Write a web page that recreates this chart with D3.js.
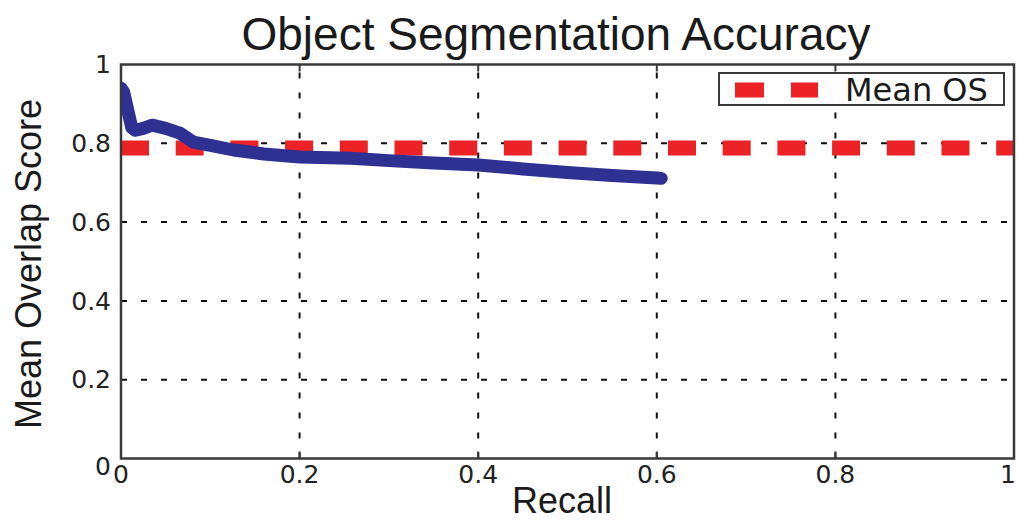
<!DOCTYPE html>
<html>
<head>
<meta charset="utf-8">
<script src="https://cdn.jsdelivr.net/npm/d3@7"></script>
<style>
  body { margin: 0; background: #fff; }
  svg { display: block; }
</style>
</head>
<body>
<div id="chart"></div>
<script>
// Data
const recall = [0, 0.003, 0.012, 0.016, 0.025, 0.035, 0.05, 0.066, 0.081, 0.1, 0.126, 0.16, 0.2, 0.257, 0.3, 0.35, 0.4, 0.45, 0.5, 0.55, 0.6, 0.605];
const overlap = [0.94, 0.93, 0.84, 0.833, 0.838, 0.846, 0.838, 0.826, 0.803, 0.795, 0.783, 0.773, 0.765, 0.762, 0.756, 0.75, 0.745, 0.735, 0.726, 0.718, 0.712, 0.711];
const meanOS = 0.788;
const xTicks = [0, 0.2, 0.4, 0.6, 0.8, 1];
const yTicks = [0, 0.2, 0.4, 0.6, 0.8, 1];
const tickLabels = ["0", "0.2", "0.4", "0.6", "0.8", "1"];

const width = 1017;
const height = 521;
const plot = { left: 121, right: 1014, top: 64.5, bottom: 458.5 };

const blue = "#2e3192";
const red = "#ec2227";
const frameColor = "#3a3a3a";

const svg = d3.select("#chart")
  .append("svg")
  .attr("width", width)
  .attr("height", height);

svg.append("clipPath")
  .attr("id", "plot-clip")
  .append("rect")
  .attr("x", plot.left).attr("y", plot.top)
  .attr("width", plot.right - plot.left)
  .attr("height", plot.bottom - plot.top);

const x = d3.scaleLinear().domain([0, 1]).range([plot.left, plot.right]);
const y = d3.scaleLinear().domain([0, 1]).range([plot.bottom, plot.top]);

// Grid (dotted)
const grid = svg.append("g");
grid.selectAll(".vgrid")
  .data(xTicks.slice(1, -1))
  .join("line")
  .attr("x1", (d) => x(d)).attr("x2", (d) => x(d))
  .attr("y1", plot.bottom).attr("y2", plot.top)
  .attr("stroke", "#111")
  .attr("stroke-width", 2)
  .attr("stroke-dasharray", "6,14");
grid.selectAll(".hgrid")
  .data(yTicks.slice(1, -1))
  .join("line")
  .attr("y1", (d) => y(d)).attr("y2", (d) => y(d))
  .attr("x1", plot.left).attr("x2", plot.right)
  .attr("stroke", "#111")
  .attr("stroke-width", 2)
  .attr("stroke-dasharray", "6,14");

// Mean OS line
svg.append("line")
  .attr("x1", x(0)).attr("x2", x(1))
  .attr("y1", y(meanOS)).attr("y2", y(meanOS))
  .attr("stroke", red)
  .attr("stroke-width", 15)
  .attr("stroke-dasharray", "28,26.7");

// Accuracy curve
const points = recall.map((r, i) => [r, overlap[i]]);
const line = d3.line().x((d) => x(d[0])).y((d) => y(d[1]));
svg.append("path")
  .datum(points)
  .attr("d", line)
  .attr("clip-path", "url(#plot-clip)")
  .attr("fill", "none")
  .attr("stroke", blue)
  .attr("stroke-width", 13)
  .attr("stroke-linejoin", "round")
  .attr("stroke-linecap", "round");

// Frame
svg.append("rect")
  .attr("x", plot.left).attr("y", plot.top)
  .attr("width", plot.right - plot.left)
  .attr("height", plot.bottom - plot.top)
  .attr("fill", "none")
  .attr("stroke", frameColor)
  .attr("stroke-width", 2.5);

// Inward ticks on top and bottom
const ticks = svg.append("g").attr("stroke", frameColor).attr("stroke-width", 2);
ticks.selectAll(".tt")
  .data(xTicks.slice(1, -1))
  .join("line")
  .attr("x1", (d) => x(d)).attr("x2", (d) => x(d))
  .attr("y1", plot.top).attr("y2", plot.top + 7);
ticks.selectAll(".bt")
  .data(xTicks.slice(1, -1))
  .join("line")
  .attr("x1", (d) => x(d)).attr("x2", (d) => x(d))
  .attr("y1", plot.bottom).attr("y2", plot.bottom - 7);

// Tick labels
const tickFont = "'DejaVu Sans', sans-serif";
svg.append("g")
  .selectAll("text")
  .data(xTicks)
  .join("text")
  .attr("x", (d) => (d === 1 ? width - 1 : x(d)))
  .attr("y", 483)
  .attr("text-anchor", (d) => (d === 1 ? "end" : "middle"))
  .attr("font-family", tickFont)
  .attr("font-size", 25)
  .attr("fill", "#222")
  .text((d, i) => tickLabels[i]);

svg.append("g")
  .selectAll("text")
  .data(yTicks)
  .join("text")
  .attr("x", 111)
  .attr("y", (d) => y(d) + (d === 0 ? 8 : 0))
  .attr("dy", "0.35em")
  .attr("text-anchor", "end")
  .attr("font-family", tickFont)
  .attr("font-size", 25)
  .attr("fill", "#222")
  .text((d, i) => tickLabels[i]);

// Title and axis labels
const labelFont = "'Liberation Sans', Arial, sans-serif";
svg.append("text")
  .attr("x", 556)
  .attr("y", 50)
  .attr("text-anchor", "middle")
  .attr("font-family", labelFont)
  .attr("font-size", 46)
  .attr("fill", "#1a1a1a")
  .text("Object Segmentation Accuracy");

svg.append("text")
  .attr("x", 562)
  .attr("y", 513)
  .attr("text-anchor", "middle")
  .attr("font-family", labelFont)
  .attr("font-size", 36)
  .attr("fill", "#1a1a1a")
  .text("Recall");

svg.append("text")
  .attr("transform", "translate(41,264) rotate(-90)")
  .attr("text-anchor", "middle")
  .attr("font-family", labelFont)
  .attr("font-size", 36)
  .attr("fill", "#1a1a1a")
  .text("Mean Overlap Score");

// Legend
const legend = svg.append("g");
legend.append("rect")
  .attr("x", 719).attr("y", 73)
  .attr("width", 285).attr("height", 32)
  .attr("fill", "#fff")
  .attr("stroke", frameColor)
  .attr("stroke-width", 2);
legend.append("line")
  .attr("x1", 735).attr("x2", 818)
  .attr("y1", 90).attr("y2", 90)
  .attr("stroke", red)
  .attr("stroke-width", 15)
  .attr("stroke-dasharray", "29,27");
legend.append("text")
  .attr("x", 845)
  .attr("y", 101)
  .attr("font-family", tickFont)
  .attr("font-size", 32)
  .attr("fill", "#1a1a1a")
  .text("Mean OS");
</script>
</body>
</html>
